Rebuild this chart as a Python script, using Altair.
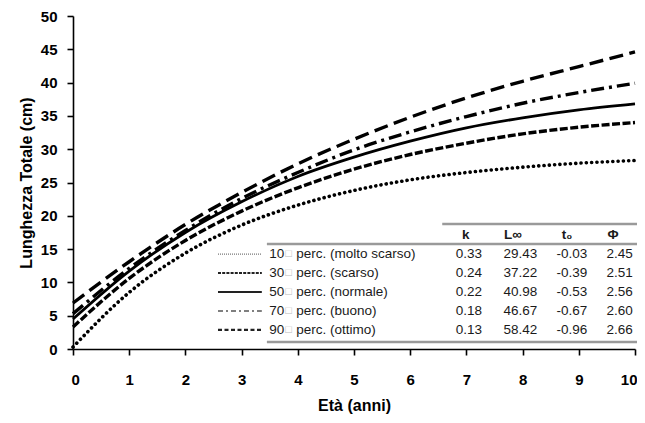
import altair as alt
import pandas as pd

# ---------------- data ----------------
ages = [0, 1, 2, 3, 4, 5, 6, 7, 8, 9, 10]
len_p10 = [0.3, 8.5, 14.4, 18.6, 21.6, 23.8, 25.4, 26.5, 27.3, 27.9, 28.3]
len_p30 = [3.3, 10.6, 16.3, 20.7, 24.2, 27.0, 29.2, 30.9, 32.3, 33.3, 34.0]
len_p50 = [4.5, 11.7, 17.5, 22.1, 25.9, 28.8, 31.2, 33.2, 34.7, 35.9, 36.8]
len_p70 = [5.3, 12.1, 17.8, 22.6, 26.5, 29.9, 32.6, 34.9, 36.9, 38.5, 39.9]
len_p90 = [6.9, 13.1, 18.7, 23.5, 27.8, 31.5, 34.8, 37.7, 40.2, 42.4, 44.6]

series_nums = ["10", "30", "50", "70", "90"]
series_desc = ["perc. (molto scarso)", "perc. (scarso)", "perc. (normale)",
               "perc. (buono)", "perc. (ottimo)"]
k_vals = ["0.33", "0.24", "0.22", "0.18", "0.13"]
linf_vals = ["29.43", "37.22", "40.98", "46.67", "58.42"]
t0_vals = ["-0.03", "-0.39", "-0.53", "-0.67", "-0.96"]
phi_vals = ["2.45", "2.51", "2.56", "2.60", "2.66"]
headers = ["k", "L∞", "t₀", "Φ"]

all_lengths = [len_p10, len_p30, len_p50, len_p70, len_p90]

# ---------------- styles ----------------
FONT = "Liberation Sans"
line_styles = [
    dict(strokeDash=[0.1, 5.2], strokeCap="round", strokeWidth=3.6),
    dict(strokeDash=[8, 2.5], strokeWidth=3.4),
    dict(strokeWidth=2.8),
    dict(strokeDash=[13, 5, 3, 5], strokeWidth=3.4),
    dict(strokeDash=[14, 6.5], strokeWidth=3.4),
]
legend_styles = [
    dict(strokeDash=[1, 1], strokeWidth=1.2, color="#777"),
    dict(strokeDash=[3, 1.2], strokeWidth=2.2, color="#222"),
    dict(strokeWidth=2.2, color="#222"),
    dict(strokeDash=[5, 3, 2, 3], strokeWidth=1.6, color="#555"),
    dict(strokeDash=[4, 2.5], strokeWidth=2.2, color="#222"),
]

xs = alt.Scale(domain=[0, 10], nice=False, zero=False)
ys = alt.Scale(domain=[0, 50], nice=False)

x_axis = alt.Axis(values=list(range(0, 11)), title="Età (anni)",
                  labelPadding=17, titlePadding=10,
                  labelFlush=True, labelFlushOffset=2)
y_axis = alt.Axis(values=list(range(0, 51, 5)), title="Lunghezza Totale (cm)",
                  labelPadding=10, titlePadding=6)


def XD(v):
    return alt.XDatum(v, type="quantitative", scale=xs, axis=x_axis)


def X2D(v):
    return alt.X2Datum(v)


def YD(v):
    return alt.YDatum(v, type="quantitative", scale=ys, axis=y_axis)


def YF(f):
    return alt.Y(f"{f}:Q", scale=ys, axis=y_axis)


layers = []
for i, (lens, st) in enumerate(zip(all_lengths, line_styles)):
    df = pd.DataFrame({"age": ages, "len": lens})
    layers.append(
        alt.Chart(df).mark_line(color="black", interpolate="monotone", **st).encode(
            x=alt.X("age:Q", scale=xs, axis=x_axis),
            y=YF("len"),
        )
    )

# ---------------- table / legend ----------------
ROW0, ROWSTEP = 14.26, 2.85
tab = pd.DataFrame({
    "num": series_nums, "desc": series_desc, "k": k_vals, "linf": linf_vals,
    "t0": t0_vals, "phi": phi_vals,
})
tab["ry"] = [ROW0 - ROWSTEP * i for i in range(len(tab))]
tab["box"] = "□"

TXT = dict(font=FONT, fontSize=13.5, color="#1a1a1a", baseline="middle")


def col_text(field, xpos, align="right", dx=0, **extra):
    opts = dict(TXT)
    opts.update(extra)
    return alt.Chart(tab).mark_text(align=align, dx=dx, **opts).encode(
        x=XD(xpos), y=YF("ry"), text=f"{field}:N")


layers.append(col_text("num", 3.49, align="left"))
layers.append(col_text("box", 3.49, align="left", dx=16, color="#bbbbbb", fontSize=11))
layers.append(col_text("desc", 3.49, align="left", dx=27))
layers.append(col_text("k", 7.28))
layers.append(col_text("linf", 8.26))
layers.append(col_text("t0", 9.15))
layers.append(col_text("phi", 9.96))

for i, st in enumerate(legend_styles):
    sub = tab.iloc[[i]]
    layers.append(
        alt.Chart(sub).mark_rule(**st).encode(
            x=XD(2.58), x2=X2D(3.36), y=YF("ry"))
    )

head_x = [6.99, 7.83, 8.79, 9.61]
for h, hx in zip(headers, head_x):
    layers.append(
        alt.Chart(tab.iloc[[0]]).mark_text(font=FONT, fontSize=13.5, fontWeight="bold",
                                           color="#1a1a1a", baseline="middle",
                                           align="center").encode(
            x=XD(hx), y=YD(17.1), text=alt.value(h))
    )

# gray rules of the table
for (xa, xb, yv) in [(6.57, 10.05, 18.77), (3.45, 10.05, 15.77), (3.45, 10.05, 1.05)]:
    layers.append(
        alt.Chart(tab.iloc[[0]]).mark_rule(color="#9a9a9a", strokeWidth=2.4).encode(
            x=XD(xa), x2=X2D(xb), y=YD(yv))
    )

chart = alt.layer(*layers).properties(
    width=562, height=333,
    autosize=alt.AutoSizeParams(type="none"),
    padding={"left": 65, "top": 8, "right": 2, "bottom": 66},
).configure_view(stroke=None).configure_axis(
    grid=False,
    domainColor="black", domainWidth=1.6,
    tickColor="black", tickWidth=1.6, tickSize=6,
    labelFont=FONT, labelFontSize=15, labelFontWeight="bold", labelColor="black",
    titleFont=FONT, titleFontSize=16, titleFontWeight="bold", titleColor="black",
)

chart.save("out.html", embed_options={"renderer": "svg", "actions": False})
